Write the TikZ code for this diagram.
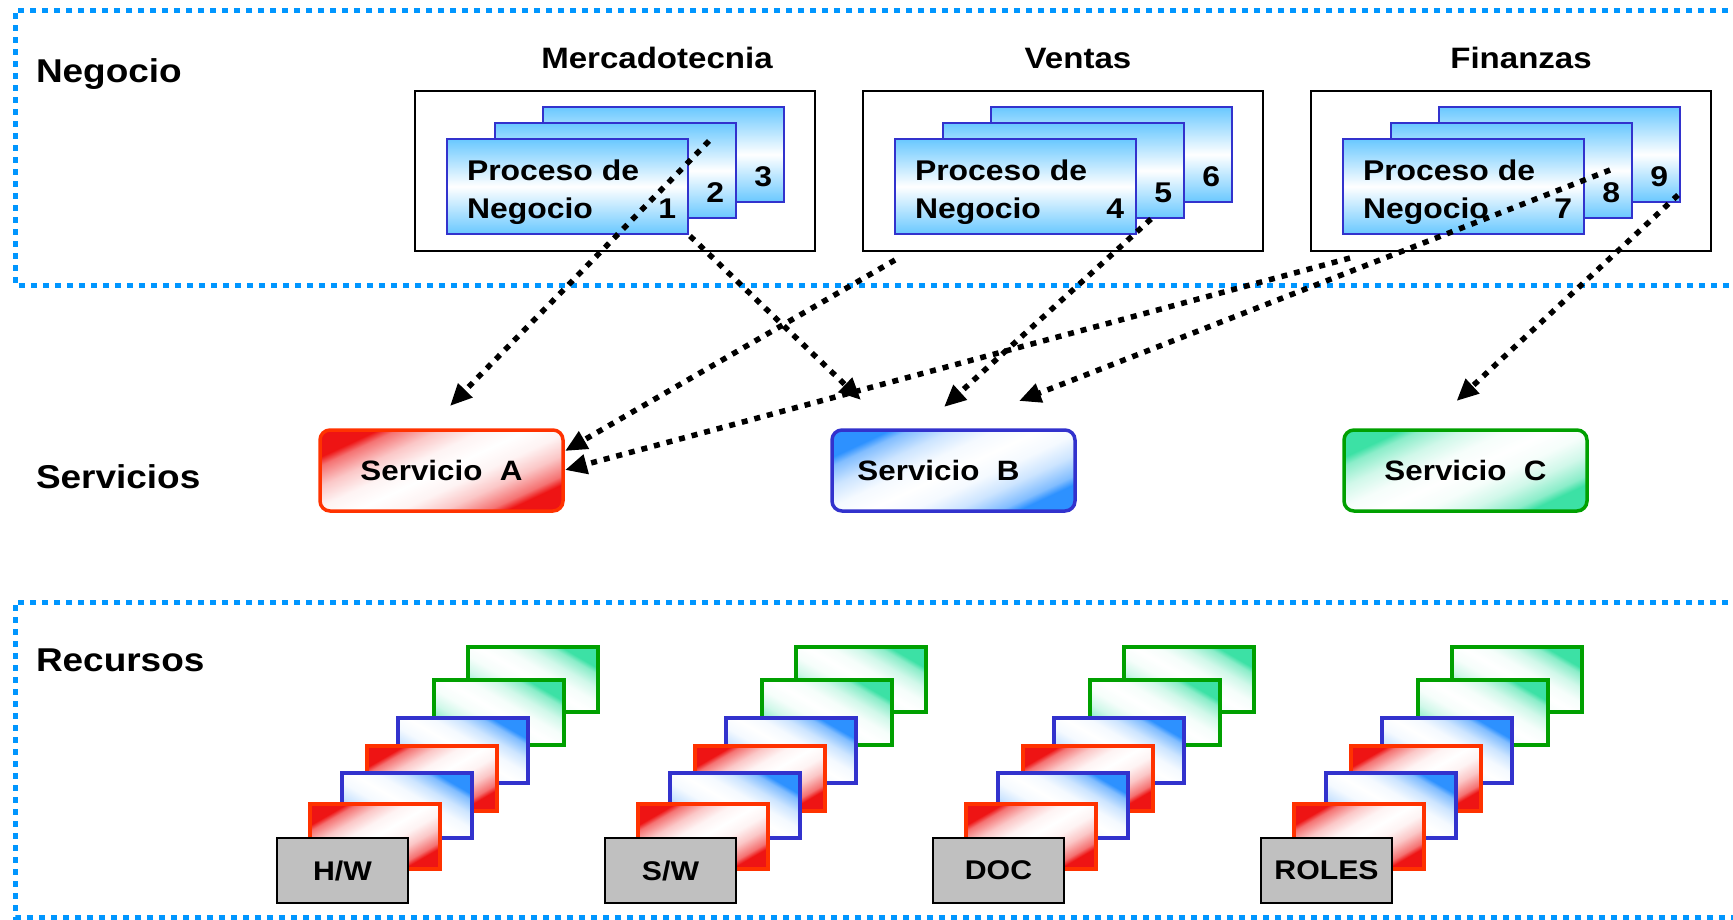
\documentclass[tikz,border=0pt]{standalone}
\usepackage{fontspec}
\setmainfont{Liberation Sans}[FakeStretch=1.12]
\usetikzlibrary{arrows.meta,calc}

\definecolor{dotblue}{RGB}{0,150,255}
\definecolor{cardblue}{RGB}{105,200,255}
\definecolor{procedge}{RGB}{50,50,205}
\definecolor{edgered}{RGB}{255,50,0}
\definecolor{edgeblue}{RGB}{50,50,205}
\definecolor{edgegreen}{RGB}{0,160,0}
\definecolor{shadered}{RGB}{238,20,20}
\definecolor{shadeblue}{RGB}{45,145,255}
\definecolor{shadegreen}{RGB}{60,225,165}
\definecolor{tagfill}{RGB}{192,192,192}
\colorlet{fadecol}{white}

% corner-to-corner fade: colour at both ends, soft ramps to a white middle
\pgfdeclareverticalshading[fadecol]{fade}{100bp}{color(0bp)=(fadecol); color(26bp)=(fadecol); color(29bp)=(fadecol!60!white); color(36bp)=(fadecol!24!white); color(43bp)=(fadecol!5!white); color(50bp)=(white); color(57bp)=(fadecol!5!white); color(64bp)=(fadecol!24!white); color(71bp)=(fadecol!60!white); color(74bp)=(fadecol); color(100bp)=(fadecol)}

\begin{document}
\begin{tikzpicture}[x=1pt,y=-1pt,
  every node/.style={inner sep=0pt, outer sep=0pt},
  layerframe/.style={draw=dotblue, line width=5pt, dash pattern=on 6pt off 6pt},
  layername/.style={anchor=base west, font=\fontsize{33}{38}\selectfont\bfseries},
  grp/.style={draw=black, line width=2.5pt, fill=white, minimum width=400pt, minimum height=160pt, anchor=north west},
  grphead/.style={anchor=base, font=\fontsize{29.5}{34}\selectfont\bfseries},
  proc/.style={draw=procedge, line width=2.5pt, top color=cardblue, bottom color=cardblue, middle color=white, minimum width=241pt, minimum height=95pt, anchor=north west},
  proctext/.style={anchor=base west, font=\fontsize{28.5}{33}\selectfont\bfseries},
  procnum/.style={anchor=base east, font=\fontsize{28.5}{33}\selectfont\bfseries},
  fadefill/.style={/utils/exec={\colorlet{fadecol}{#1}}, shade, shading=fade},
  svc/.style={draw=#1, line width=3.5pt, rounded corners=10pt, minimum width=243pt, minimum height=81pt, anchor=north west, font=\fontsize{28}{33}\selectfont\bfseries},
  rescard/.style 2 args={draw=#1, line width=3.5pt, fadefill=#2, minimum width=130pt, minimum height=65pt, anchor=north west},
  restag/.style={draw=black, line width=2pt, fill=tagfill, minimum width=131pt, minimum height=65pt, anchor=north west, font=\fontsize{27}{31}\selectfont\bfseries},
  flow/.style={draw=black, line width=5.5pt, dash pattern=on 6pt off 7pt, -{Triangle[length=22pt,width=19pt]}},
]
\useasboundingbox (0,0) rectangle (1733,919);

% layer frames, open to the right
\draw[layerframe] (1740,10) -- (15,10) -- (15,285) -- (1740,285);
\draw[layerframe] (1740,602) -- (15,602) -- (15,917) -- (1740,917);

\node[layername] (lnegocio) at (36,82) {Negocio};
\node[layername] (lservicios) at (36,488) {Servicios};
\node[layername] (lrecursos) at (36,671) {Recursos};

% business areas with their stacked processes
\foreach \g/\dx/\n/\hd/\hx in {M/0/1/Mercadotecnia/42, V/448/4/Ventas/15, F/896/7/Finanzas/10} {
  \node[grp] (\g-box) at (415+\dx,91) {};
  \node[grphead] (\g-head) at ($(\g-box.north)+(\hx,-23)$) {\hd};
  \foreach \k/\ox/\oy in {3/128/16, 2/80/32, 1/32/48} {
    \pgfmathtruncatemacro\num{\n+\k-1}
    \node[proc] (\g\k) at ($(\g-box.north west)+(\ox,\oy)$) {};
    \node[procnum] (\g\k-num) at ($(\g\k.south east)+(-12,-16)$) {\num};
  }
  \node[proctext] (\g-t1) at ($(\g1.south west)+(20,-54)$) {Proceso de};
  \node[proctext] (\g-t2) at ($(\g1.south west)+(20,-16)$) {Negocio};
}

% services
\node[svc=edgered, fadefill=shadered, shading angle=25] (svcA) at (320,430) {Servicio~~A};
\node[svc=edgeblue, fadefill=shadeblue, shading angle=25] (svcB) at (832,430) {Servicio~~B\hspace*{30pt}};
\node[svc=edgegreen, fadefill=shadegreen, shading angle=25] (svcC) at (1344,430) {Servicio~~C};

% resource stacks
\foreach \k/\lbl in {0/{H/W}, 1/{S/W}, 2/{DOC}, 3/{ROLES}} {
  \node[rescard={edgegreen}{shadegreen}, shading angle=-30] (r\k-g2) at ({468+328*\k},647) {};
  \node[rescard={edgegreen}{shadegreen}, shading angle=-30] (r\k-g1) at ({434+328*\k},680) {};
  \node[rescard={edgeblue}{shadeblue}, shading angle=-30] (r\k-b2) at ({398+328*\k},718) {};
  \node[rescard={edgered}{shadered}, shading angle=30] (r\k-r2) at ({367+328*\k},746) {};
  \node[rescard={edgeblue}{shadeblue}, shading angle=-30] (r\k-b1) at ({342+328*\k},773) {};
  \node[rescard={edgered}{shadered}, shading angle=30] (r\k-r1) at ({310+328*\k},804) {};
  \node[restag] (r\k-tag) at ({277+328*\k},838) {\lbl};
}

% connector ends
\coordinate (s1) at ($(M2.north east)+(-27,18)$);
\coordinate (s2) at ($(M1.south east)+(2,2)$);
\coordinate (s3) at ($(V-box.south west)+(32,9)$);
\coordinate (s4) at ($(V2.south east)+(-33,1)$);
\coordinate (s5) at ($(F-box.south west)+(39,7)$);
\coordinate (s6) at ($(F2.north east)+(-22,47)$);
\coordinate (s7) at ($(F3.south east)+(-2,-7)$);

\coordinate (e1) at ($(svcA.north)+(8.5,-24)$);
\coordinate (e3) at ($(svcA.east)+(2,-19.5)$);
\coordinate (e5) at ($(svcA.east)+(2,-0.5)$);
\coordinate (e2) at ($(svcB.north)+(-92.5,-30)$);
\coordinate (e4) at ($(svcB.north)+(-9.5,-23)$);
\coordinate (e6) at ($(svcB.north)+(65.5,-29)$);
\coordinate (e7) at ($(svcC.north)+(-9,-29)$);

\draw[flow] (s1) -- (e1);
\draw[flow] (s2) -- (e2);
\draw[flow] (s3) -- (e3);
\draw[flow] (s4) -- (e4);
\draw[flow] (s5) -- (e5);
\draw[flow] (s6) -- (e6);
\draw[flow] (s7) -- (e7);
\end{tikzpicture}
\end{document}
